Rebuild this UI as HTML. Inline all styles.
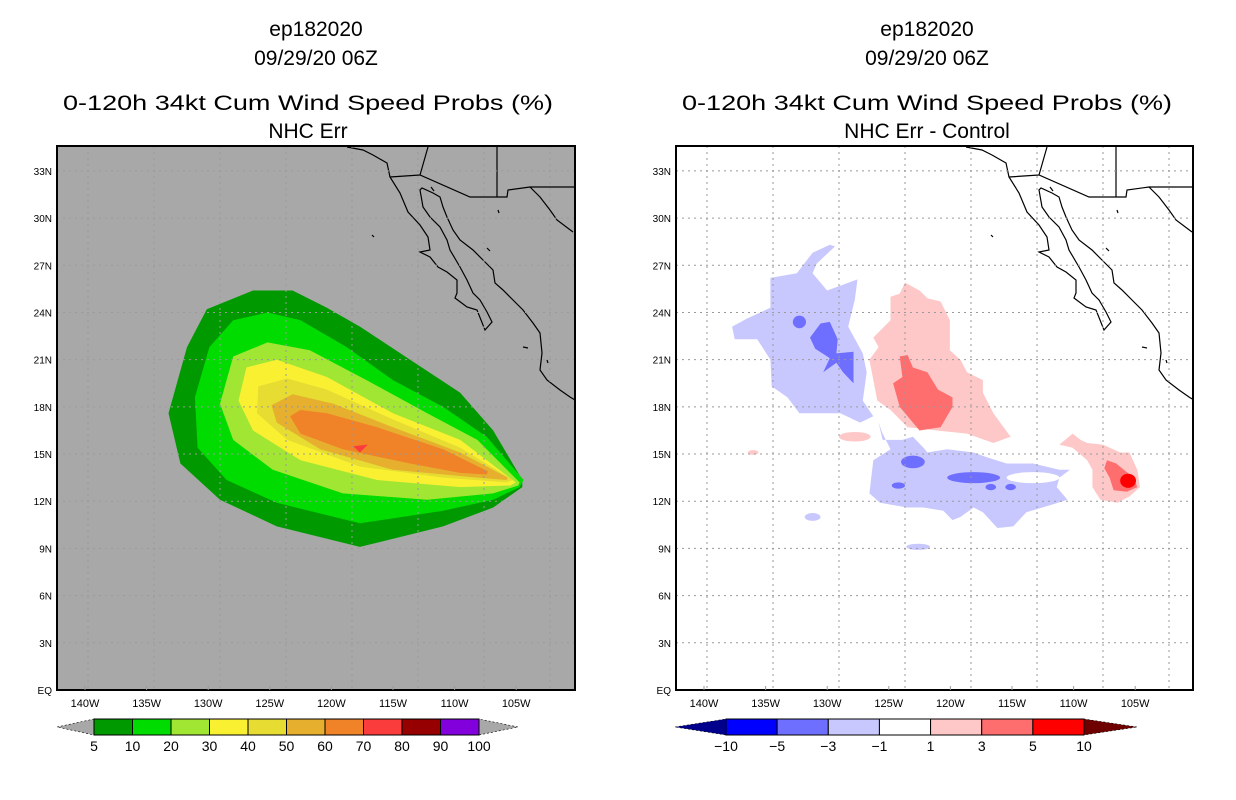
<!DOCTYPE html>
<html><head><meta charset="utf-8"><style>
html,body{margin:0;padding:0;background:#fff;}
svg{display:block;font-family:"Liberation Sans",sans-serif;}
</style></head><body>
<svg id="s" width="1236" height="800" viewBox="0 0 1236 800" xmlns="http://www.w3.org/2000/svg">
<rect width="1236" height="800" fill="#fff"/>
<g font-size="21" text-anchor="middle" fill="#000">
<text x="316" y="36">ep182020</text>
<text x="316" y="65">09/29/20 06Z</text>
<text x="308" y="110" textLength="490" lengthAdjust="spacingAndGlyphs">0-120h 34kt Cum Wind Speed Probs (%)</text>
<text x="308" y="138">NHC Err</text>
</g>
<g font-size="21" text-anchor="middle" fill="#000">
<text x="927" y="36">ep182020</text>
<text x="927" y="65">09/29/20 06Z</text>
<text x="927" y="110" textLength="490" lengthAdjust="spacingAndGlyphs">0-120h 34kt Cum Wind Speed Probs (%)</text>
<text x="927" y="138">NHC Err - Control</text>
</g>
<g id="L"></g>
<g id="R"></g>
<g id="CB"></g>
</svg>
<script>
// ---- data ----
const latTicks = [0,3,6,9,12,15,18,21,24,27,30,33];
const latLabels = ["EQ","3N","6N","9N","12N","15N","18N","21N","24N","27N","30N","33N"];
const lonTickLabels = ["140W","135W","130W","125W","120W","115W","110W","105W"];
const gridLons = [140,135,130,125,120,115,110,105];
const probLevels = [5,10,20,30,40,50,60,70,80,90,100];
const probColors = ["#009a00","#00dc00","#a0e632","#faf032","#e6dc32","#e6af2d","#f08228","#fa3c3c","#960000","#8200dc"];
const diffLevels = ["-10","-5","-3","-1","1","3","5","10"];
const diffColors = ["#00008c","#0000ff","#6e6eff","#c8c8ff","#ffffff","#ffc8c8","#ff6e6e","#ff0000","#6e0000"];
// contour polygons [lonW, latN]
const prob5 = [[107.1,13.35],[109.3,16.5],[111.8,18.9],[115.6,21.0],[119.4,23.1],[121.9,24.3],[124.5,25.4],[127.5,25.4],[131.0,24.2],[132.5,21.8],[133.9,17.6],[133.0,14.4],[130.0,12.1],[125.7,10.4],[119.4,9.1],[113.1,10.4],[109.3,11.6],[107.1,12.9]];
const prob10 = [[107.0,13.35],[109.8,16.1],[113.1,18.0],[116.9,19.7],[120.4,21.8],[123.9,23.5],[126.4,24.0],[129.0,23.5],[130.8,21.8],[131.9,18.6],[131.7,15.4],[129.5,13.35],[125.7,11.9],[119.4,10.6],[113.1,11.4],[109.3,12.1],[107.3,12.9]];
const prob20 = [[107.3,13.2],[110.5,15.9],[114.3,17.6],[118.9,19.7],[123.2,21.6],[126.4,22.1],[129.0,21.2],[130.0,18.2],[129.0,15.9],[126.0,14.0],[120.7,12.5],[114.3,12.1],[109.3,12.5],[107.4,13.0]];
const prob30 = [[107.6,13.2],[111.8,15.9],[116.9,17.6],[121.9,19.9],[125.7,21.0],[128.0,20.5],[128.6,18.4],[127.5,16.5],[123.9,14.6],[118.1,13.35],[111.8,12.9],[108.0,13.0]];
const prob40 = [[107.8,13.35],[111.8,15.4],[116.9,17.2],[121.9,19.1],[124.9,19.8],[127.1,19.3],[127.2,17.6],[124.9,15.9],[119.4,14.2],[113.1,13.5],[108.3,13.2]];
const prob50 = [[108.2,13.5],[111.8,15.1],[116.9,16.7],[121.4,18.2],[124.5,18.8],[126.1,18.1],[125.7,17.0],[122.4,15.3],[116.9,14.0],[110.5,13.5],[108.3,13.35]];
const prob60 = [[109.7,13.9],[113.1,15.3],[118.1,16.7],[121.9,17.6],[123.9,17.8],[124.7,17.4],[123.9,16.3],[120.7,15.3],[115.6,14.4],[111.8,13.8],[109.8,13.7]];
const prob70 = [[118.8,15.6],[119.9,15.5],[119.4,15.1]];
const diffNWlight = [[130.3,28.2],[131.7,27.1],[132.0,26.5],[130.9,25.4],[128.6,26.1],[128.8,24.8],[129.3,23.1],[128.2,21.4],[127.9,20.2],[128.2,18.4],[127.4,17.4],[128.4,17.0],[129.9,17.6],[133.0,17.6],[133.9,18.6],[135.1,19.3],[135.2,21.0],[136.2,22.3],[137.9,22.3],[138.1,23.1],[137.0,23.6],[135.2,24.3],[135.2,26.2],[133.2,26.5],[132.0,27.8],[130.7,28.3]];
const diffNWmid = [[132.2,22.4],[131.4,23.3],[130.7,23.4],[130.1,22.3],[130.2,21.4],[128.9,21.5],[128.9,19.5],[129.7,20.2],[130.2,20.8],[131.2,20.2],[130.7,21.1],[131.8,21.7]];
const diffSlight = [[127.0,17.0],[126.7,15.9],[125.2,15.9],[124.4,16.1],[123.6,15.4],[123.3,15.1],[121.8,15.3],[119.8,15.1],[118.8,14.8],[117.3,14.4],[115.3,14.4],[113.3,14.0],[112.5,14.0],[113.3,13.5],[113.5,12.9],[112.7,12.1],[113.8,11.8],[115.8,11.3],[116.8,10.4],[118.0,10.3],[119.1,11.3],[119.8,11.6],[120.8,11.0],[121.4,10.8],[122.1,11.4],[123.6,11.6],[124.8,11.6],[126.9,11.9],[127.7,12.5],[127.4,14.6],[126.1,15.3],[126.7,16.3]];
const diffCpink = [[125.0,25.9],[123.9,25.4],[123.3,24.9],[122.3,24.7],[121.6,23.5],[121.6,21.6],[120.8,21.0],[120.3,20.2],[119.1,19.7],[119.1,18.9],[118.3,17.6],[117.0,16.1],[118.3,15.7],[120.3,16.3],[122.6,16.5],[124.8,16.7],[126.1,17.8],[127.1,18.4],[127.7,21.0],[127.0,21.8],[127.4,22.4],[126.1,23.5],[126.1,25.0],[125.4,25.2]];
const diffCred = [[125.4,21.2],[124.8,21.3],[124.4,20.5],[123.3,20.2],[122.5,19.1],[121.4,18.6],[121.4,18.0],[122.3,16.7],[123.9,16.5],[125.4,18.0],[125.9,19.5],[125.2,19.9]];
const diffEpink = [[112.3,16.3],[111.7,15.9],[111.2,15.7],[110.0,15.6],[108.7,15.1],[108.0,15.1],[107.4,14.0],[107.2,12.9],[108.0,12.3],[108.9,11.9],[110.2,12.1],[110.8,12.9],[110.8,14.0],[111.2,14.6],[112.3,15.4],[113.3,15.6]];
const diffEred = [[109.7,14.6],[109.0,14.4],[107.7,13.5],[107.4,12.9],[108.2,12.6],[109.2,12.7],[109.5,13.5],[109.9,14.1]];
// small spots: [lonW, latN, rxDeg, ryDeg, colorIndex]
const diffSpots = [[108.1,13.3,0.6,0.45,7],[119.8,13.5,2.0,0.35,2],[124.4,14.5,0.9,0.4,2],[125.5,13.0,0.5,0.2,2],[118.5,12.9,0.4,0.2,2],[117.0,12.9,0.4,0.2,2],[133.0,23.4,0.5,0.4,2],[115.3,13.5,2.0,0.35,4],[128.8,16.1,1.2,0.3,5],[132.0,11.0,0.6,0.25,3],[124.0,9.1,0.9,0.2,3],[136.5,15.1,0.4,0.15,5]];

// ---- axes ----
const NS="http://www.w3.org/2000/svg";
const svg=document.getElementById('s');
const P={L:{x0:57,x1:575,g:document.getElementById('L')},R:{x0:676,x1:1193,g:document.getElementById('R')}};
const y0=146,y1=690;
function xs(p,w){return P[p].x0+31+(140-w)*13.2;}
function ys(lat){return 690-lat*15.73;}
function el(t,a,parent){const e=document.createElementNS(NS,t);for(const k in a)e.setAttribute(k,a[k]);parent.appendChild(e);return e;}
function poly(p,pts,fill,name){
  const d=pts.map((q,i)=>(i?'L':'M')+xs(p,q[0]).toFixed(1)+','+ys(q[1]).toFixed(1)).join('')+'Z';
  const e=el('path',{d:d,fill:fill},P[p].g);
  
  
}
const coast="M347,147L363,150L373,155L387,163L390,177L400,193L408,212L420,225L428,237L430,250L420,252L430,257L438,267L447,272L457,280L457,293L455,298L467,307L477,310L485,330L492,322L487,312L480,300L473,293L467,280L460,267L450,250L447,240L440,227L430,217L423,207L420,190L422,188L433,193L440,197L443,207L447,217L453,230L460,240L473,250L483,260L493,270L495,283L503,290L513,300L523,310L533,323L540,333L542,353L540,370L547,380L560,390L570,397L575,400 M390,177L420,175L470,197L507,197L508,190L530,187L575,187 M420,175L428,147 M497,146L497,197 M530,187L540,197L550,210L557,220L573,232 M372,235l2,2 M431,187l3,4 M498,210l1,3 M523,347l5,1 M547,360l1,3 M487,248l3,3";

function panel(p,bg){
  const g=P[p].g,x0=P[p].x0,x1=P[p].x1;
  const cp=el('clipPath',{id:'clip'+p},svg);
  el('rect',{x:x0,y:y0,width:x1-x0,height:y1-y0},cp);
  const r=el('rect',{x:x0,y:y0,width:x1-x0,height:y1-y0,fill:bg},g);
  
  
  const inner=el('g',{'clip-path':'url(#clip'+p+')'},g);
  P[p].g=inner;
  return {g,inner};
}
function gridAndFrame(p,outer){
  const g=P[p].g,x0=P[p].x0,x1=P[p].x1;
  const cl=el('path',{d:coast,fill:'none',stroke:'#000','stroke-width':1.2,transform:'translate('+(x0-57)+',0)'},g);
  
  
  gridLons.forEach(w=>{const x=xs(p,w);if(x>x0&&x<x1){const l=el('line',{x1:x,x2:x,y1:y0,y2:y1,stroke:'#9a9a9a','stroke-dasharray':'2,4','stroke-width':1},g);
    
    }});
  latTicks.forEach(v=>{const y=ys(v);if(y>y0&&y<y1){const l=el('line',{x1:x0,x2:x1,y1:y,y2:y,stroke:'#9a9a9a','stroke-dasharray':'2,4','stroke-width':1},g);
    
    }});
  const f=el('rect',{x:x0,y:y0,width:x1-x0,height:y1-y0,fill:'none',stroke:'#000','stroke-width':2},outer);
  
  
  latTicks.forEach((v,i)=>{const t=el('text',{x:x0-5,y:ys(v)+4,'font-size':10,'text-anchor':'end'},outer);t.textContent=latLabels[i];
    
    });
  lonTickLabels.forEach((s,i)=>{const x=x0+28+i*61.6;
    el('line',{x1:x,x2:x,y1:y1-4,y2:y1,stroke:'#999'},outer);
    const t=el('text',{x:x,y:y1+17,'font-size':11,'text-anchor':'middle'},outer);t.textContent=s;
    
    });
}
// left
const L=panel('L','#a8a8a8');
[prob5,prob10,prob20,prob30,prob40,prob50,prob60,prob70].forEach((c,i)=>poly('L',c,probColors[i],'prob-contour-'+probLevels[i]));
gridAndFrame('L',L.g);
// right
const R=panel('R','#ffffff');
poly('R',diffNWlight,diffColors[3],'diff-nw-neg-light');
poly('R',diffNWmid,diffColors[2],'diff-nw-neg-mid');
poly('R',diffSlight,diffColors[3],'diff-south-neg-light');
poly('R',diffCpink,diffColors[5],'diff-central-pos-light');
poly('R',diffCred,diffColors[6],'diff-central-pos-mid');
poly('R',diffEpink,diffColors[5],'diff-east-pos-light');
poly('R',diffEred,diffColors[6],'diff-east-pos-mid');
diffSpots.forEach(s=>{const e=el('ellipse',{cx:xs('R',s[0]),cy:ys(s[1]),rx:s[2]*13.2,ry:s[3]*15.73,fill:diffColors[s[4]]},P.R.g);
  
  });
gridAndFrame('R',R.g);
// colorbars
const CB=document.getElementById('CB');
function colorbar(xa,x0,x1,xb,colors,labels,endL,endR,first){
  const n=colors.length,w=(x1-x0)/n,yt=719,yb=735,ym=727;
  const a=el('polygon',{points:xa+','+ym+' '+x0+','+yt+' '+x0+','+yb,fill:endL,stroke:'#000','stroke-width':0.6,'stroke-dasharray':'2,2'},CB);
  
  
  const b=el('polygon',{points:xb+','+ym+' '+x1+','+yt+' '+x1+','+yb,fill:endR,stroke:'#000','stroke-width':0.6,'stroke-dasharray':'2,2'},CB);
  
  
  colors.forEach((c,i)=>{const r=el('rect',{x:x0+i*w,y:yt,width:w,height:yb-yt,fill:c,stroke:'#000','stroke-width':1},CB);
    
    });
  labels.forEach((s,i)=>{const t=el('text',{x:x0+(i+first)*w,y:751,'font-size':14,'text-anchor':'middle'},CB);t.textContent=s.replace('-','\u2212');
    
    });
}
colorbar(57,94,479,518,probColors,probLevels.map(String),'#a8a8a8','#a8a8a8',0);
colorbar(675,726,1084,1137,diffColors.slice(1,8),diffLevels,diffColors[0],diffColors[8],0);
</script>
</body></html>
